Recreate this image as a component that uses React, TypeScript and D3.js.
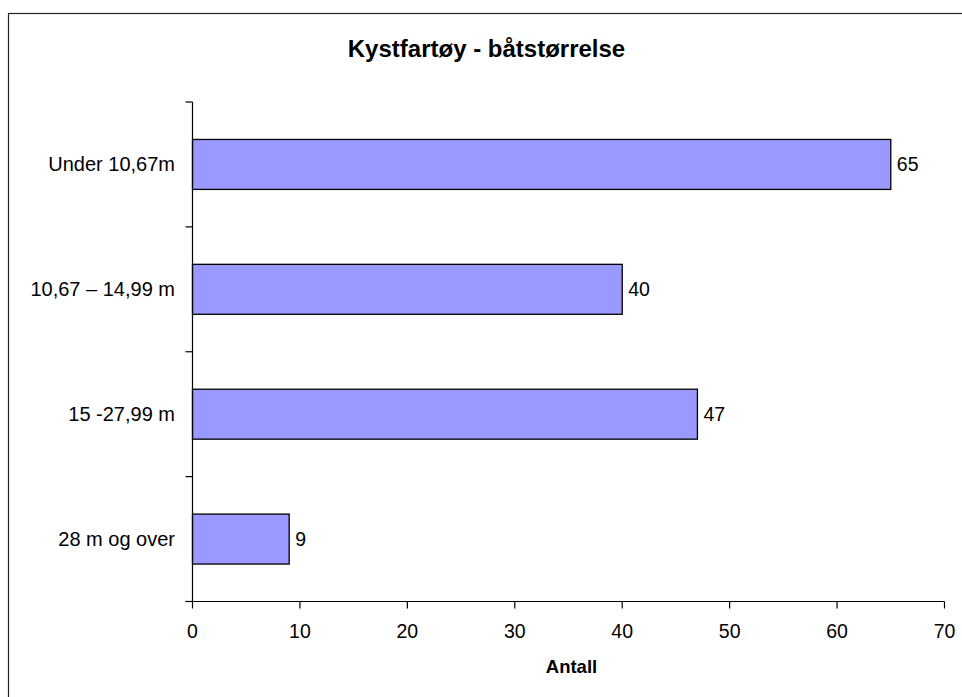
import React from "react";
import * as d3 from "d3";

const categories = ["Under 10,67m", "10,67 – 14,99 m", "15 -27,99 m", "28 m og over"];
const values = [65, 40, 47, 9];
const xTicks = [0, 10, 20, 30, 40, 50, 60, 70];

const width = 962;
const height = 697;
const plotLeft = 192.5;
const plotRight = 944.5;
const plotTop = 102;
const plotBottom = 601.5;
const font = "Arial, 'Liberation Sans', sans-serif";

export default function App() {
  const x = d3.scaleLinear().domain([0, 70]).range([plotLeft, plotRight]);
  const y = d3
    .scaleBand<string>()
    .domain(categories)
    .range([plotTop, plotBottom])
    .paddingInner(0.6)
    .paddingOuter(0.3);
  const bandEdges = d3.range(categories.length + 1).map((i) => plotTop + (i * (plotBottom - plotTop)) / categories.length);

  return (
    <svg
      width={width}
      height={height}
      style={{ position: "absolute", left: 0, top: 0, background: "#fff" }}
      fontFamily={font}
    >
      {/* frame */}
      <rect x={8.5} y={13.5} width={width + 20} height={height + 20} fill="#fff" stroke="#222" strokeWidth={1.2} />

      <text x={486.5} y={57} textAnchor="middle" fontSize={24} fontWeight="bold" fill="#000">
        Kystfartøy - båtstørrelse
      </text>

      {/* bars */}
      {categories.map((c, i) => (
        <g key={c}>
          <rect
            x={x(0)}
            y={y(c)}
            width={x(values[i]) - x(0)}
            height={y.bandwidth()}
            fill="#9999FF"
            stroke="#000"
            strokeWidth={1.3}
          />
          <text
            x={x(values[i]) + 6}
            y={(y(c) as number) + y.bandwidth() / 2}
            dy="0.35em"
            fontSize={19.5}
            fill="#000"
          >
            {values[i]}
          </text>
          <text
            x={175}
            y={(y(c) as number) + y.bandwidth() / 2}
            dy="0.35em"
            textAnchor="end"
            fontSize={20}
            fill="#000"
          >
            {c}
          </text>
        </g>
      ))}

      {/* y axis */}
      <line x1={plotLeft} x2={plotLeft} y1={plotTop} y2={plotBottom} stroke="#000" strokeWidth={1.2} />
      {bandEdges.map((v, i) => (
        <line key={i} x1={plotLeft - 7} x2={plotLeft} y1={v} y2={v} stroke="#000" strokeWidth={1.2} />
      ))}

      {/* x axis */}
      <line x1={plotLeft - 7} x2={plotRight} y1={plotBottom} y2={plotBottom} stroke="#000" strokeWidth={1.2} />
      {xTicks.map((t) => (
        <g key={t}>
          <line x1={x(t)} x2={x(t)} y1={plotBottom} y2={plotBottom + 7} stroke="#000" strokeWidth={1.2} />
          <text x={x(t)} y={638} textAnchor="middle" fontSize={19.5} fill="#000">
            {t}
          </text>
        </g>
      ))}

      <text x={571.5} y={673} textAnchor="middle" fontSize={18.5} fontWeight="bold" fill="#000">
        Antall
      </text>
    </svg>
  );
}
